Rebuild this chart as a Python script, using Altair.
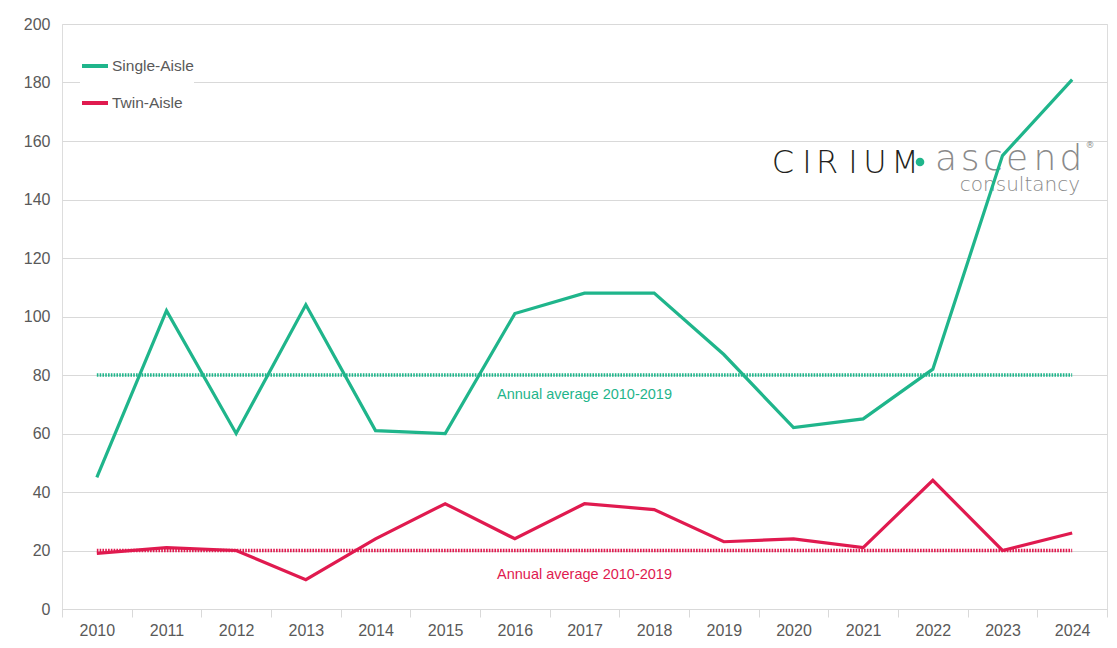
import altair as alt
import pandas as pd

years = [str(y) for y in range(2010, 2025)]
single_aisle = [45, 102, 60, 104, 61, 60, 101, 108, 108, 87, 62, 65, 82, 155, 181]
twin_aisle = [19, 21, 20, 10, 24, 36, 24, 36, 34, 23, 24, 21, 44, 20, 26]
series_names = ["Single-Aisle", "Twin-Aisle"]
series_colors = ["#1fb58b", "#e01a4f"]
avg_values = [80, 20]
avg_label = "Annual average 2010-2019"
avg_label_year = "2017"
avg_label_values = [73.3, 11.7]

FONT = "Liberation Sans"
GREY = "#595959"

rows = []
for name, vals in zip(series_names, [single_aisle, twin_aisle]):
    for y, v in zip(years, vals):
        rows.append({"year": y, "value": v, "series": name})
df = pd.DataFrame(rows)

avg_rows = []
for name, a in zip(series_names, avg_values):
    for y in years:
        avg_rows.append({"year": y, "value": a, "series": name})
avg_df = pd.DataFrame(avg_rows)

lbl_df = pd.DataFrame({
    "year": [avg_label_year] * 2,
    "value": avg_label_values,
    "series": series_names,
    "text": [avg_label] * 2,
})

x_scale = alt.Scale(type="band", domain=years, paddingInner=0, paddingOuter=0)
y_scale = alt.Scale(domain=[0, 200], nice=False)

x_enc = alt.X(
    "year:N", sort=years, bandPosition=0.5, scale=x_scale,
    axis=alt.Axis(
        title=None, labelAngle=0, labelFont=FONT, labelFontSize=16, labelColor=GREY,
        domainColor="#d9d9d9", tickColor="#d9d9d9", tickSize=8, tickBand="extent",
        labelPadding=5, grid=False,
    ),
)
y_enc = alt.Y(
    "value:Q", scale=y_scale,
    axis=alt.Axis(
        title=None, values=list(range(0, 201, 20)), labelFont=FONT, labelFontSize=16,
        labelColor=GREY, domain=False, ticks=False, gridColor="#d9d9d9", gridWidth=1,
        labelPadding=12,
    ),
)
color_enc = alt.Color(
    "series:N",
    scale=alt.Scale(domain=series_names, range=series_colors),
    sort=series_names,
    legend=alt.Legend(
        title=None, orient="none", legendX=18, legendY=27, symbolType="stroke",
        symbolStrokeWidth=4, symbolSize=676, labelFont=FONT, labelFontSize=15.5,
        labelColor=GREY, labelOffset=2, rowPadding=13, fillColor="white",
        padding=0,
    ),
)

# dotted 2010-2019 average reference lines
avg_lines = alt.Chart(avg_df).mark_line(strokeWidth=3.5, strokeDash=[1.6, 1.2]).encode(
    x=x_enc, y=y_enc, color=color_enc, detail="series:N",
)

avg_text = alt.Chart(lbl_df).mark_text(font=FONT, fontSize=14.5, align="center", baseline="middle").encode(
    x=alt.X("year:N", sort=years, bandPosition=0.5, scale=x_scale),
    y=alt.Y("value:Q", scale=y_scale),
    text="text:N",
    color=color_enc,
)

lines = alt.Chart(df).mark_line(strokeWidth=3.2).encode(
    x=x_enc, y=y_enc, color=color_enc,
)

# brand mark, letter by letter for its wide tracking
cirium_letters = list("CIRIUM")
cirium_x = [721, 745, 765, 791, 813, 843]
ascend_letters = list("ascend")
ascend_x = [884, 908, 931, 955, 983, 1009]

logo_one = pd.DataFrame({"k": [0]})
logo_layers = []
for ch, px in zip(cirium_letters, cirium_x):
    logo_layers.append(
        alt.Chart(logo_one).mark_text(text=ch, font="DejaVu Sans", fontWeight=200, fontSize=32,
                                      align="center", baseline="alphabetic", color="#231f20")
        .encode(x=alt.value(px), y=alt.value(149))
    )
logo_layers.append(
    alt.Chart(logo_one).mark_point(filled=True, size=75, color="#1fb58b", opacity=1)
    .encode(x=alt.value(858), y=alt.value(138))
)
for ch, px in zip(ascend_letters, ascend_x):
    logo_layers.append(
        alt.Chart(logo_one).mark_text(text=ch, font="DejaVu Sans", fontWeight=200, fontSize=36,
                                      align="center", baseline="alphabetic", color="#8a8a8a")
        .encode(x=alt.value(px), y=alt.value(146))
    )
logo_layers.append(
    alt.Chart(logo_one).mark_text(text="consultancy", font="DejaVu Sans", fontWeight=200, fontSize=20,
                                  align="right", baseline="alphabetic", color="#8a8a8a")
    .encode(x=alt.value(1018), y=alt.value(167))
)
logo_layers.append(
    alt.Chart(logo_one).mark_text(text="®", font="DejaVu Sans", fontSize=9,
                                  align="center", baseline="middle", color="#8a8a8a")
    .encode(x=alt.value(1028), y=alt.value(121))
)
logo = alt.layer(*logo_layers)

chart = alt.layer(avg_lines, avg_text, logo, lines).properties(
    width=1045, height=585,
    padding={"left": 62, "top": 24, "right": 10, "bottom": 39},
    autosize=alt.AutoSizeParams(type="none"),
).configure_view(stroke=None).configure(background="white")

chart.save("out.html", embed_options={"renderer": "svg", "actions": False})
